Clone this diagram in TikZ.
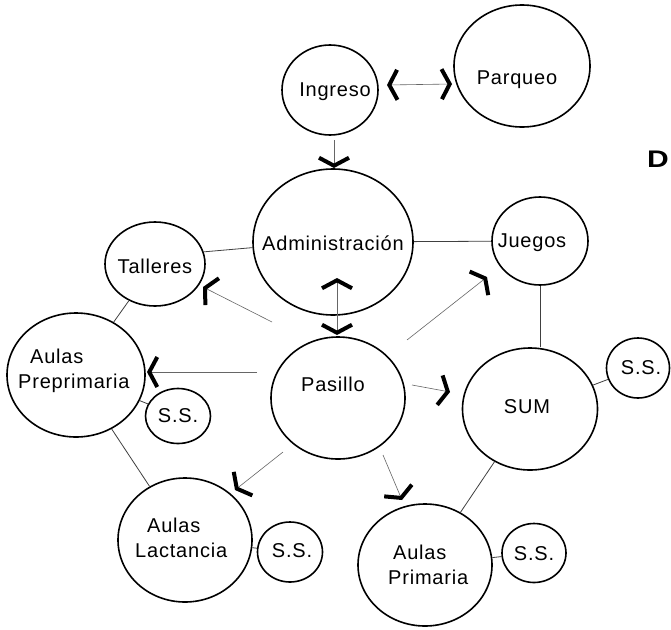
\documentclass[tikz,border=0pt]{standalone}
\usepackage{fontspec}
\setmainfont{Liberation Sans}[LetterSpace=4]
\usetikzlibrary{arrows.meta,shapes.geometric}
\begin{document}
\begin{tikzpicture}[x=1pt,y=-1pt,
  room/.style={draw, ellipse, line width=1.6pt, inner sep=0pt},
  lbl/.style={font=\fontsize{20}{20}\selectfont, inner sep=0pt, anchor=base},
  lblw/.style={lbl, anchor=base west},
  link/.style={line width=0.8pt, black!75},
  chev/.tip={Straight Barb[length=8pt,width=30pt,line width=4pt,color=black]},
  arr/.style={line width=0.6pt, black!60, -chev},
  darr/.style={line width=0.6pt, black!60, chev-chev},
]
\fill[white] (0,0) rectangle (671,629);
\useasboundingbox (0,0) rectangle (671,629);

% rooms
\node[room, minimum width=96pt,  minimum height=90pt]  (ing) at (330,90)  {};
\node[room, minimum width=136pt, minimum height=122pt] (par) at (522,66)  {};
\node[room, minimum width=160pt, minimum height=146pt] (adm) at (333,242) {};
\node[room, minimum width=100pt, minimum height=84pt]  (tal) at (155,264) {};
\node[room, minimum width=96pt,  minimum height=88pt]  (jue) at (540,241) {};
\node[room, minimum width=138pt, minimum height=124pt] (pre) at (76,375)  {};
\node[room, minimum width=65pt,  minimum height=55pt]  (ss1) at (178,416) {};
\node[room, minimum width=134pt, minimum height=122pt] (pas) at (338,398) {};
\node[room, minimum width=135pt, minimum height=122pt] (sum) at (530,409) {};
\node[room, minimum width=63pt,  minimum height=60pt]  (ss2) at (638,368) {};
\node[room, minimum width=134pt, minimum height=124pt] (lac) at (185,540) {};
\node[room, minimum width=65pt,  minimum height=60pt]  (ss3) at (290,552) {};
\node[room, minimum width=134pt, minimum height=122pt] (pri) at (425,565) {};
\node[room, minimum width=64pt,  minimum height=59pt]  (ss4) at (534,553) {};

% labels
\node[lbl]  (ingT)  at (335,96)  {Ingreso};
\node[lbl]  (parT)  at (517,84)  {Parqueo};
\node[lbl]  (admT)  at (333,250) {Administración};
\node[lbl]  (talT)  at (155,273) {Talleres};
\node[lbl]  (jueT)  at (532,247) {Juegos};
\node[lblw] (preT1) at (30,363)  {Aulas};
\node[lblw] (preT2) at (18,388)  {Preprimaria};
\node[lbl]  (ss1T)  at (178,422) {S.S.};
\node[lbl]  (pasT)  at (333,391) {Pasillo};
\node[lbl]  (sumT)  at (527,413) {SUM};
\node[lbl]  (ss2T)  at (641,374) {S.S.};
\node[lblw] (lacT1) at (147,532) {Aulas};
\node[lblw] (lacT2) at (135,557) {Lactancia};
\node[lbl]  (ss3T)  at (292,557) {S.S.};
\node[lblw] (priT1) at (393,559) {Aulas};
\node[lblw] (priT2) at (388,584) {Primaria};
\node[lbl]  (ss4T)  at (534,560) {S.S.};
\node[font=\fontsize{24}{24}\selectfont\bfseries, anchor=base west, inner sep=0pt] (dd) at (647,167) {\scalebox{1.25}[1]{D}};

% plain connectors
\draw[link] (adm.184) -- (tal.14);
\draw[link] (adm) -- (jue);
\draw[link] (tal) -- (pre);
\draw[link] (pre) -- (ss1);
\draw[link] (pre) -- (lac);
\draw[link] (jue.south) -- (jue.south |- sum.north);
\draw[link] (sum) -- (ss2);
\draw[link] (sum) -- (pri);
\draw[link] (lac) -- (ss3);
\draw[link] (pri) -- (ss4);

% arrow end points
\coordinate (a1) at (387,85);  \coordinate (b1) at (452,84);
\coordinate (a2) at (334,140); \coordinate (b2) at (334,168);
\coordinate (a3) at (337,278); \coordinate (b3) at (337,335);
\coordinate (pT) at (272,322); \coordinate (eT) at (203,287);
\coordinate (pJ) at (407,340); \coordinate (eJ) at (487,277);
\coordinate (pS) at (412,385); \coordinate (eS) at (450,392);
\coordinate (pP) at (257,372); \coordinate (eP) at (147,372);
\coordinate (pL) at (283,452); \coordinate (eL) at (235,490);
\coordinate (pR) at (383,455); \coordinate (eR) at (402,500);

% arrows
\draw[darr] (a1) -- (b1);
\draw[arr]  (a2) -- (b2);
\draw[darr] (a3) -- (b3);
\draw[arr]  (pT) -- (eT);
\draw[arr]  (pJ) -- (eJ);
\draw[arr]  (pS) -- (eS);
\draw[arr]  (pP) -- (eP);
\draw[arr]  (pL) -- (eL);
\draw[arr]  (pR) -- (eR);
\end{tikzpicture}
\end{document}
